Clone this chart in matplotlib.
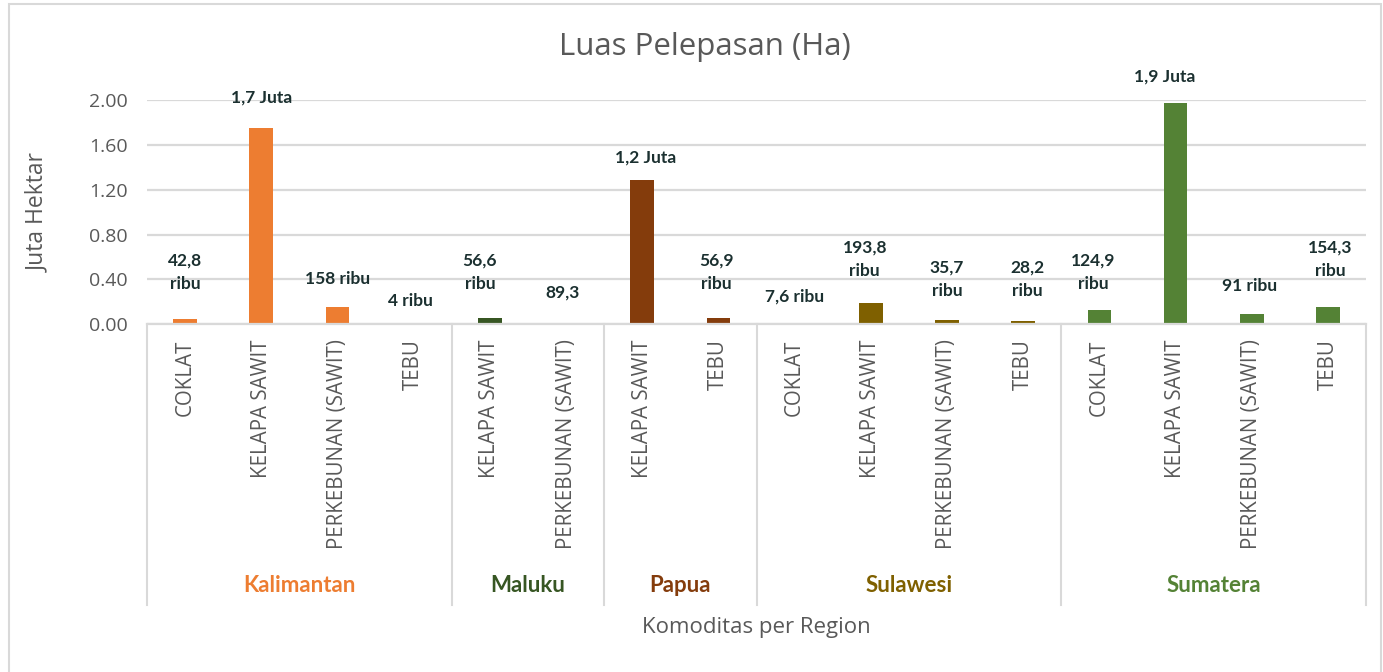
import matplotlib
matplotlib.use("Agg")
import matplotlib.pyplot as plt
from matplotlib.patches import Rectangle
import matplotlib.transforms as mtransforms

# ---------------- data ----------------
regions = ["Kalimantan", "Maluku", "Papua", "Sulawesi", "Sumatera"]
region_commodities = [
    ["COKLAT", "KELAPA SAWIT", "PERKEBUNAN (SAWIT)", "TEBU"],
    ["KELAPA SAWIT", "PERKEBUNAN (SAWIT)"],
    ["KELAPA SAWIT", "TEBU"],
    ["COKLAT", "KELAPA SAWIT", "PERKEBUNAN (SAWIT)", "TEBU"],
    ["COKLAT", "KELAPA SAWIT", "PERKEBUNAN (SAWIT)", "TEBU"],
]
# values in juta hektar
region_values = [
    [0.0428, 1.753, 0.158, 0.004],
    [0.0566, 0.0000893],
    [1.283, 0.0569],
    [0.0076, 0.1938, 0.0357, 0.0282],
    [0.1249, 1.970, 0.091, 0.1543],
]
region_labels = [
    ["42,8\nribu", "1,7 Juta", "158 ribu", "4 ribu"],
    ["56,6\nribu", "89,3"],
    ["1,2 Juta", "56,9\nribu"],
    ["7,6 ribu", "193,8\nribu", "35,7\nribu", "28,2\nribu"],
    ["124,9\nribu", "1,9 Juta", "91 ribu", "154,3\nribu"],
]
yticks = [0.0, 0.4, 0.8, 1.2, 1.6, 2.0]

# ---------------- styles / layout ----------------
region_colors = ["#ED7D31", "#375623", "#843C0C", "#7F6000", "#548235"]
# label positions (data units, centre of label) and x-shift in category units
label_y = [
    [0.462, 2.02, 0.405, 0.21],
    [0.462, 0.28],
    [1.485, 0.465],
    [0.25, 0.58, 0.40, 0.40],
    [0.465, 2.205, 0.34, 0.58],
]
label_dx = [
    [0.0, 0.0, 0.0, -0.04],
    [-0.13, -0.05],
    [0.05, -0.03],
    [0.0, -0.08, 0.0, 0.05],
    [-0.08, -0.14, -0.03, 0.03],
]

GRAY = "#595959"
GRID = "#D9D9D9"
LABEL_C = "#1B3030"
BASE_FONT = ["Open Sans", "DejaVu Sans"]
BOLD_FONT = ["Lato", "DejaVu Sans"]

W, H = 1383, 672
fig = plt.figure(figsize=(W / 100, H / 100), dpi=100)
fig.patch.set_facecolor("white")

# outer chart border
fig.add_artist(Rectangle((9 / W, -0.1), (1381 - 9) / W, 1 - 4 / H + 0.1,
                         transform=fig.transFigure, fill=False,
                         edgecolor="#D9D9D9", linewidth=1.5))

x0, x1 = 147, 1366
ytop, ybot = 100, 324.3
ax = fig.add_axes([x0 / W, 1 - ybot / H, (x1 - x0) / W, (ybot - ytop) / H])

xs, vals, cols, ticklabels = [], [], [], []
i = 0
group_bounds = [-0.5]
group_centers = []
for r, comms in enumerate(region_commodities):
    start = i
    for c, v in zip(comms, region_values[r]):
        xs.append(i)
        vals.append(v)
        cols.append(region_colors[r])
        ticklabels.append(c)
        i += 1
    group_bounds.append(i - 0.5)
    group_centers.append((start + i - 1) / 2)

ax.bar(xs, vals, width=0.31, color=cols, zorder=3)

ax.set_xlim(-0.5, len(xs) - 0.5)
ax.set_ylim(0, 2.0)
ax.set_yticks(yticks)
ax.set_yticklabels([f"{t:.2f}" for t in yticks], fontsize=14, color=GRAY,
                   family=BASE_FONT)
ax.set_xticks(xs)
ax.set_xticklabels(ticklabels, rotation=90, va="top", ha="center",
                   fontsize=14.8, color=GRAY, family=BASE_FONT)
ax.tick_params(axis="both", length=0)
ax.tick_params(axis="x", pad=11)
ax.tick_params(axis="y", pad=14)
ax.grid(axis="y", color=GRID, linewidth=1.6, zorder=0)
for s in ["top", "right", "left"]:
    ax.spines[s].set_visible(False)
ax.spines["bottom"].set_color(GRID)
ax.spines["bottom"].set_linewidth(1.6)
ax.spines["bottom"].set_zorder(4)

# data labels
k = 0
for r, labs in enumerate(region_labels):
    for j, lab in enumerate(labs):
        ax.text(xs[k] + label_dx[r][j], label_y[r][j], lab, ha="center",
                va="center", fontsize=12.5, fontweight="bold", color=LABEL_C,
                family=BOLD_FONT, linespacing=1.55, clip_on=False, zorder=5)
        k += 1

# group separators and region labels
trans = mtransforms.blended_transform_factory(ax.transData, ax.transAxes)
sep_bottom = (ybot - 605) / (ybot - ytop)
for b in group_bounds:
    ax.plot([b, b], [0, sep_bottom], transform=trans, color=GRID,
            linewidth=1.5, clip_on=False, zorder=2)
reg_y = (ybot - 586) / (ybot - ytop)
for r, name in enumerate(regions):
    ax.text(group_centers[r], reg_y, name, transform=trans, ha="center",
            va="center", fontsize=16, fontweight="bold",
            color=region_colors[r], family=BOLD_FONT)

ax.text(0.5, (ybot - 627) / (ybot - ytop), "Komoditas per Region",
        transform=ax.transAxes, ha="center", va="center", fontsize=16,
        color=GRAY, family=BASE_FONT)

fig.text(38 / W, 1 - 213 / H, "Juta Hektar", rotation=90, ha="center",
         va="center", fontsize=16.5, color=GRAY, family=BASE_FONT)
fig.text(705 / W, 1 - 47 / H, "Luas Pelepasan (Ha)", ha="center",
         va="center", fontsize=22.5, color=GRAY, family=BASE_FONT)

fig.savefig("out.png", dpi=100, facecolor="white")
